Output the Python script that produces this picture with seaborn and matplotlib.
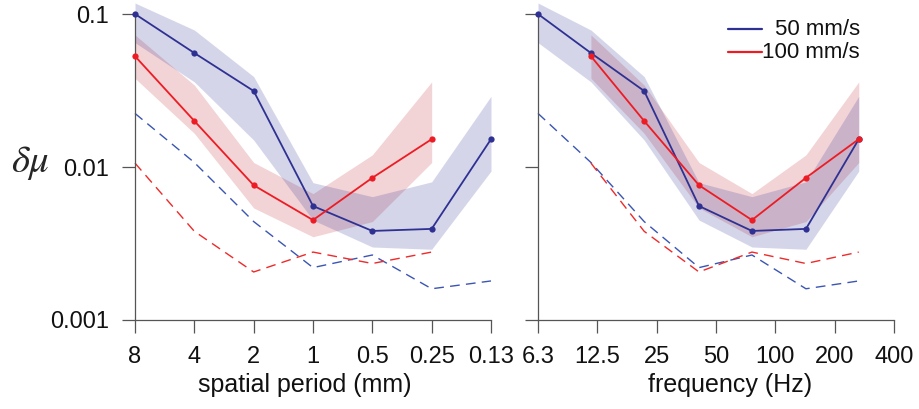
import numpy as np
import pandas as pd
import matplotlib
matplotlib.use("Agg")
import matplotlib.pyplot as plt
import seaborn as sns
from matplotlib.ticker import NullLocator

# valores
periodo = [8, 4, 2, 1, 0.5, 0.25, 0.125]
periodo_lbl = ['8', '4', '2', '1', '0.5', '0.25', '0.13']
freq_azul = [6.25, 11.6, 21.6, 41.0, 76.1, 143, 265]
freq_verm = freq_azul[1:]
freq_ticks = [6.25, 12.5, 25, 50, 100, 200, 400]
freq_lbl = ['6.3', '12.5', '25', '50', '100', '200', '400']

azul_media = [0.100, 0.0556, 0.0314, 0.00556, 0.00382, 0.00394, 0.0152]
azul_lo = [0.065, 0.036, 0.015, 0.0045, 0.0030, 0.0029, 0.0094]
azul_hi = [0.118, 0.0786, 0.039, 0.0079, 0.0064, 0.0080, 0.029]
azul_ruido = [0.0224, 0.0107, 0.0044, 0.0022, 0.00266, 0.0016, 0.0018]

verm_media = [0.053, 0.020, 0.0076, 0.0045, 0.0085, 0.0152]
verm_lo = [0.038, 0.0166, 0.0054, 0.0035, 0.0044, 0.0107]
verm_hi = [0.073, 0.0343, 0.0107, 0.0067, 0.012, 0.036]
verm_ruido = [0.0106, 0.0038, 0.00206, 0.00278, 0.00234, 0.00278]

AZUL = '#2E3192'
VERM = '#ED1C24'
cores = {'50 mm/s': AZUL, '100 mm/s': VERM}
cores_ruido = {'50 mm/s': '#3A55B3', '100 mm/s': '#EE2A2A'}

sns.set_theme(style="ticks")
plt.rcParams['font.family'] = ['Liberation Sans', 'DejaVu Sans']
plt.rcParams['mathtext.fontset'] = 'stix'

n_v = len(verm_media)
df = pd.DataFrame({
    'periodo': periodo + periodo[:n_v],
    'freq': freq_azul + freq_verm,
    'media': azul_media + verm_media,
    'ruido': azul_ruido + verm_ruido,
    'vel': ['50 mm/s'] * len(periodo) + ['100 mm/s'] * n_v,
})

fig = plt.figure(figsize=(9.2, 4.09), dpi=100)
W, H = 920, 409
y_top_px, y_bot_px = 1.9, 320
ax1 = fig.add_axes([135 / W, (H - y_bot_px) / H, 356 / W, (y_bot_px - y_top_px) / H])
ax2 = fig.add_axes([538 / W, (H - y_bot_px) / H, 356 / W, (y_bot_px - y_top_px) / H])

for ax, xcol, xa, xv in [(ax1, 'periodo', periodo, periodo[:n_v]),
                         (ax2, 'freq', freq_azul, freq_verm)]:
    ax.fill_between(xv, verm_lo, verm_hi, color='#F2D3D6', lw=0, clip_on=False, zorder=1)
    ax.fill_between(xa, azul_lo, azul_hi, color=AZUL, alpha=0.2, lw=0, clip_on=False, zorder=1)
    sns.lineplot(data=df, x=xcol, y='ruido', hue='vel', palette=cores_ruido, ax=ax,
                 estimator=None, sort=False, legend=False,
                 lw=1.0, linestyle=(0, (7, 4.5)), clip_on=False, zorder=2)
    sns.lineplot(data=df, x=xcol, y='media', hue='vel', palette=cores, ax=ax,
                 estimator=None, sort=False, legend=False,
                 lw=1.3, marker='o', markersize=4.5, markeredgewidth=0,
                 clip_on=False, zorder=3)
    ax.set_xscale('log', base=2)
    ax.set_yscale('log')
    ax.set_ylim(0.001, 0.12)
    ax.set_yticks([0.001, 0.01, 0.1])
    ax.yaxis.set_minor_locator(NullLocator())
    ax.xaxis.set_minor_locator(NullLocator())
    ax.spines['left'].set_bounds(0.001, 0.1)
    for s in ['top', 'right']:
        ax.spines[s].set_visible(False)
    for s in ['left', 'bottom']:
        ax.spines[s].set_color('#555555')
        ax.spines[s].set_linewidth(0.9)
    ax.tick_params(axis='both', length=9.5, width=0.9, color='#555555',
                   labelsize=17, pad=9, labelcolor='#111111')

ax1.set_xlim(8, 0.125)
ax1.spines['bottom'].set_bounds(0.125, 8)
ax1.set_xticks(periodo, periodo_lbl)
ax1.set_yticklabels(['0.001', '0.01', '0.1'])
ax1.set_xlabel('spatial period (mm)', fontsize=18, color='#111111', va='top')
ax1.xaxis.set_label_coords(0.478, -0.168)
ax1.set_ylabel(r'$\delta\mu$', fontsize=28, rotation=0, ha='center', va='center')
ax1.yaxis.set_label_coords(-0.295, 0.494)

ax2.set_xlim(6.25, 400)
ax2.spines['bottom'].set_bounds(6.25, 400)
ax2.set_xticks(freq_ticks, freq_lbl)
ax2.set_yticklabels([])
ax2.set_xlabel('frequency (Hz)', fontsize=18, color='#111111', va='top')
ax2.xaxis.set_label_coords(0.539, -0.168)
ax2.set_ylabel('')

# legenda com texto alinhado à direita
for yl, nome in [(0.916, '50 mm/s'), (0.842, '100 mm/s')]:
    ax2.plot([0.534, 0.629], [yl, yl], transform=ax2.transAxes,
             color=cores[nome], lw=1.6, clip_on=False)
    ax2.text(0.904, yl - 0.002, nome, transform=ax2.transAxes, ha='right', va='center',
             fontsize=16, color='#111111')

fig.savefig('out.png', dpi=100)
